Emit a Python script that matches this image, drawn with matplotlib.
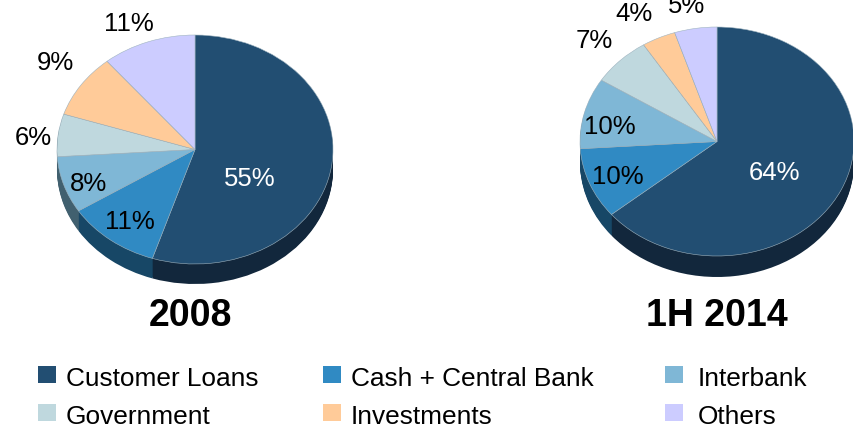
import matplotlib.pyplot as plt
from matplotlib.patches import Rectangle

plt.rcParams['font.family'] = ['Liberation Sans', 'DejaVu Sans']

categories = ['Customer Loans', 'Cash + Central Bank', 'Interbank', 'Government', 'Investments', 'Others']
valores2008 = [55, 11, 8, 6, 9, 11]
valores2014 = [64, 10, 10, 7, 4, 5]
titulos = ['2008', '1H 2014']

cores = ['#224e72', '#308ac3', '#7fb7d6', '#bfd8de', '#ffcb99', '#ccccff']
coresLado = ['#12273c', '#174766', '#41606f', '#5d7074', '#7f6650', '#666680']
coresTexto = ['white', 'black', 'black', 'black', 'black', 'black']

L, A = 854, 434
fig = plt.figure(figsize=(L / 100, A / 100), dpi=100)


def desenha_pizza(valores, cx, cy, rx, ry, prof):
    # axes with free aspect, the unit pie becomes an ellipse
    margem = 1.03
    baixo = margem + prof / ry
    ax = fig.add_axes([(cx - rx * margem) / L, 1 - (cy + ry * baixo) / A,
                       2 * rx * margem / L, ry * (margem + baixo) / A])
    # side of the disc, stacked from the bottom up
    for p in range(prof, 0, -1):
        ax.pie(valores, colors=coresLado, startangle=90, counterclock=False,
               center=(0, -p / ry), wedgeprops={'linewidth': 0})
    ax.pie(valores, colors=cores, startangle=90, counterclock=False,
           wedgeprops={'linewidth': 0.4, 'edgecolor': '#9fb4c0'})
    ax.set_aspect('auto')
    ax.set_xlim(-margem, margem)
    ax.set_ylim(-baixo, margem)
    ax.axis('off')


desenha_pizza(valores2008, 195, 149.5, 138, 114.5, 20)
desenha_pizza(valores2014, 717, 141.5, 137, 114.5, 21)

# overlay in pixels for the labels and the legend
top = fig.add_axes([0, 0, 1, 1], zorder=5)
top.set_xlim(0, L)
top.set_ylim(A, 0)
top.axis('off')

pos2008 = [(250, 179), (130, 222), (89, 184), (33, 138), (55, 63), (129, 24)]
pos2014 = [(775, 173), (618, 177), (610, 127), (594, 41), (634, 14), (687, 6)]
for valores, posicoes in [(valores2008, pos2008), (valores2014, pos2014)]:
    for v, (x, y), c in zip(valores, posicoes, coresTexto):
        top.text(x, y, f'{v}%', color=c, fontsize=18.5, ha='center', va='center')

top.text(190, 316, titulos[0], fontsize=27, fontweight='bold', ha='center', va='center')
top.text(717, 316, titulos[1], fontsize=27, fontweight='bold', ha='center', va='center')

legendaX = [(38, 66), (323, 351), (665, 698)]
legendaY = [366, 404]
for i, nome in enumerate(categories):
    xq, xt = legendaX[i % 3]
    yq = legendaY[i // 3]
    top.add_patch(Rectangle((xq, yq), 18, 17, facecolor=cores[i], edgecolor='none'))
    top.text(xt, yq + 13, nome, fontsize=18.9, ha='left', va='center')

fig.savefig('out.png', dpi=100)
